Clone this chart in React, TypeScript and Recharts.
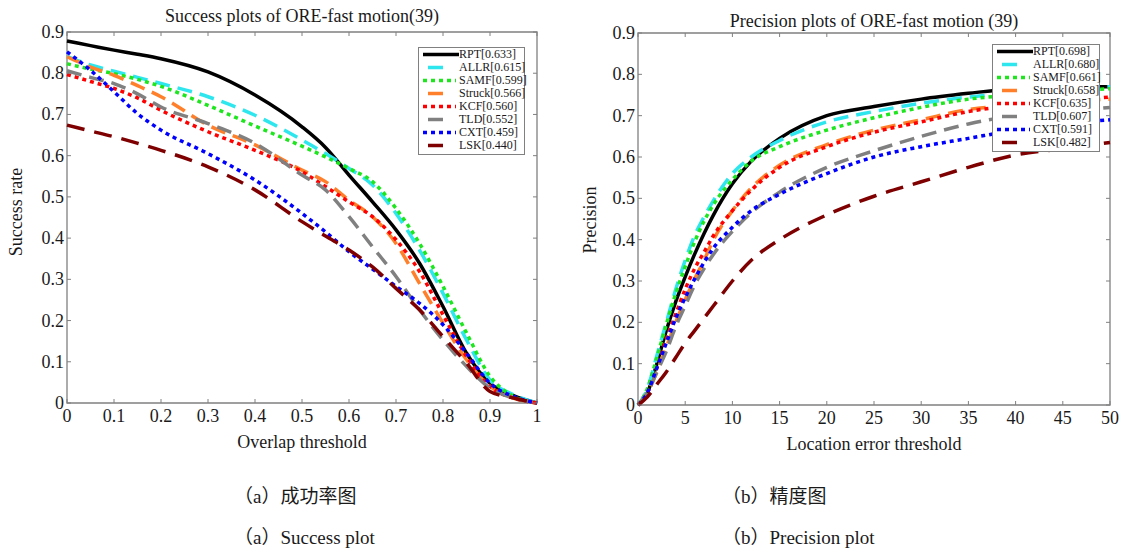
import { LineChart, Line, XAxis, YAxis, ReferenceArea, Legend } from 'recharts'

const trackers = ['RPT', 'ALLR', 'SAMF', 'Struck', 'KCF', 'TLD', 'CXT', 'LSK']
const successScores = ['0.633', '0.615', '0.599', '0.566', '0.560', '0.552', '0.459', '0.440']
const precisionScores = ['0.698', '0.680', '0.661', '0.658', '0.635', '0.607', '0.591', '0.482']

// success plot: overlap threshold -> success rate
const overlapThresholds = [0, 0.05, 0.1, 0.15, 0.2, 0.3, 0.4, 0.5, 0.55, 0.6, 0.65, 0.7, 0.75, 0.8, 0.85, 0.9, 0.95, 1]
const successRPT = [0.878, 0.867, 0.856, 0.846, 0.835, 0.803, 0.747, 0.67, 0.62, 0.553, 0.488, 0.42, 0.339, 0.234, 0.121, 0.048, 0.018, 0]
const successALLR = [0.841, 0.82, 0.805, 0.79, 0.775, 0.743, 0.698, 0.638, 0.605, 0.569, 0.529, 0.46, 0.371, 0.266, 0.153, 0.056, 0.02, 0]
const successSAMF = [0.823, 0.81, 0.799, 0.785, 0.768, 0.722, 0.672, 0.623, 0.597, 0.569, 0.537, 0.472, 0.387, 0.283, 0.17, 0.065, 0.016, 0]
const successStruck = [0.84, 0.815, 0.795, 0.77, 0.743, 0.674, 0.626, 0.565, 0.537, 0.492, 0.452, 0.387, 0.29, 0.194, 0.105, 0.04, 0.012, 0]
const successKCF = [0.797, 0.78, 0.763, 0.74, 0.71, 0.658, 0.613, 0.561, 0.525, 0.488, 0.452, 0.396, 0.319, 0.214, 0.113, 0.04, 0.012, 0]
const successTLD = [0.806, 0.79, 0.775, 0.75, 0.718, 0.678, 0.63, 0.553, 0.517, 0.452, 0.379, 0.307, 0.226, 0.153, 0.089, 0.036, 0.012, 0]
const successCXT = [0.852, 0.807, 0.755, 0.702, 0.662, 0.605, 0.541, 0.46, 0.415, 0.367, 0.325, 0.283, 0.242, 0.19, 0.121, 0.048, 0.016, 0]
const successLSK = [0.674, 0.66, 0.646, 0.63, 0.613, 0.573, 0.517, 0.44, 0.405, 0.371, 0.33, 0.278, 0.226, 0.161, 0.097, 0.028, 0.012, 0]

// precision plot: location error threshold -> precision
const errorThresholds = [0, 1, 2, 3, 4, 5, 6, 7, 8, 10, 12, 15, 20, 25, 30, 35, 40, 45, 50]
const precisionRPT = [0, 0.03, 0.1, 0.18, 0.25, 0.31, 0.365, 0.415, 0.46, 0.535, 0.59, 0.645, 0.7, 0.722, 0.74, 0.754, 0.766, 0.77, 0.77]
const precisionALLR = [0, 0.04, 0.12, 0.2, 0.28, 0.35, 0.41, 0.455, 0.495, 0.56, 0.6, 0.64, 0.685, 0.71, 0.73, 0.745, 0.755, 0.765, 0.77]
const precisionSAMF = [0, 0.04, 0.115, 0.195, 0.27, 0.335, 0.395, 0.445, 0.485, 0.545, 0.59, 0.625, 0.665, 0.695, 0.72, 0.74, 0.75, 0.76, 0.765]
const precisionStruck = [0, 0.03, 0.08, 0.14, 0.2, 0.255, 0.305, 0.35, 0.4, 0.47, 0.525, 0.58, 0.63, 0.665, 0.69, 0.715, 0.725, 0.735, 0.74]
const precisionKCF = [0, 0.03, 0.09, 0.16, 0.22, 0.28, 0.33, 0.37, 0.41, 0.47, 0.52, 0.575, 0.625, 0.66, 0.685, 0.71, 0.725, 0.735, 0.745]
const precisionTLD = [0, 0.03, 0.08, 0.13, 0.19, 0.24, 0.29, 0.33, 0.365, 0.42, 0.465, 0.515, 0.575, 0.615, 0.65, 0.68, 0.7, 0.71, 0.72]
const precisionCXT = [0, 0.03, 0.09, 0.15, 0.21, 0.26, 0.305, 0.345, 0.38, 0.43, 0.47, 0.51, 0.56, 0.6, 0.625, 0.645, 0.665, 0.68, 0.69]
const precisionLSK = [0, 0.02, 0.05, 0.08, 0.115, 0.15, 0.18, 0.21, 0.24, 0.3, 0.35, 0.4, 0.46, 0.505, 0.54, 0.575, 0.605, 0.62, 0.635]

const overlapTicks = [0, 0.1, 0.2, 0.3, 0.4, 0.5, 0.6, 0.7, 0.8, 0.9, 1]
const errorTicks = [0, 5, 10, 15, 20, 25, 30, 35, 40, 45, 50]
const rateTicks = [0, 0.1, 0.2, 0.3, 0.4, 0.5, 0.6, 0.7, 0.8, 0.9]

const successSeries = [successRPT, successALLR, successSAMF, successStruck, successKCF, successTLD, successCXT, successLSK]
const precisionSeries = [precisionRPT, precisionALLR, precisionSAMF, precisionStruck, precisionKCF, precisionTLD, precisionCXT, precisionLSK]

const successRows = overlapThresholds.map((t, i) => {
  const row: Record<string, number> = { t }
  trackers.forEach((name, k) => { row[name] = successSeries[k][i] })
  return row
})
const precisionRows = errorThresholds.map((t, i) => {
  const row: Record<string, number> = { t }
  trackers.forEach((name, k) => { row[name] = precisionSeries[k][i] })
  return row
})

const SERIF = '"Liberation Serif", "Times New Roman", serif'
const CJK = '"Liberation Serif", "Noto Sans CJK SC", serif'
const FRAME = '#808080'
const INK = '#1a1a1a'

// matlab-ish line styles; kind decides how the legend sample is drawn
const styles: Record<string, { color: string; dash?: string; kind: 'solid' | 'dash' | 'dot' }> = {
  RPT: { color: '#000000', kind: 'solid' },
  ALLR: { color: '#2ee6ee', dash: '15 8', kind: 'dash' },
  SAMF: { color: '#1ee61e', dash: '4 4', kind: 'dot' },
  Struck: { color: '#ff7f2a', dash: '15 8', kind: 'dash' },
  KCF: { color: '#ff0000', dash: '4 4', kind: 'dot' },
  TLD: { color: '#808080', dash: '15 8', kind: 'dash' },
  CXT: { color: '#0000ff', dash: '4 4', kind: 'dot' },
  LSK: { color: '#7f0000', dash: '18 10', kind: 'dash' },
}

type Box = { left: number; top: number; right: number; bottom: number }

function LegendBox({ scores, width }: { scores: string[]; width: number }) {
  return (
    <div style={{
      width, boxSizing: 'border-box', border: `1px solid ${FRAME}`, background: '#fff',
      padding: '0 2px 2px 3px', fontFamily: SERIF, fontSize: 12, color: INK, textAlign: 'left',
    }}>
      {trackers.map((name, i) => {
        const s = styles[name]
        return (
          <div key={name} style={{ display: 'flex', alignItems: 'center', height: 13, whiteSpace: 'nowrap' }}>
            <svg width={37} height={13} style={{ flex: 'none' }}>
              {s.kind === 'dash' ? (
                <line x1={6} y1={6.5} x2={21} y2={6.5} stroke={s.color} strokeWidth={3.5} />
              ) : (
                <line x1={1} y1={6.5} x2={s.kind === 'solid' ? 37 : 34} y2={6.5} stroke={s.color} strokeWidth={3.5} strokeDasharray={s.dash} />
              )}
            </svg>
            <span>{name}[{scores[i]}]</span>
          </div>
        )
      })}
    </div>
  )
}

function Panel(props: {
  rows: Record<string, number>[]
  width: number
  height: number
  box: Box
  xDomain: [number, number]
  xTicks: number[]
  scores: string[]
  legendAt: { left: number; top: number; width: number }
}) {
  const { rows, width, height, box, xDomain, xTicks, scores, legendAt } = props
  const yAxisW = 40
  const xAxisH = 30

  const XTick = (p: any) => (
    <g>
      <line x1={p.x} y1={box.bottom} x2={p.x} y2={box.bottom - 4} stroke={FRAME} />
      <line x1={p.x} y1={box.top} x2={p.x} y2={box.top + 4} stroke={FRAME} />
      <text x={p.x} y={box.bottom + 19} textAnchor="middle" fontFamily={SERIF} fontSize={18} fill={INK}>
        {p.payload.value}
      </text>
    </g>
  )
  const YTick = (p: any) => (
    <g>
      <line x1={box.left} y1={p.y} x2={box.left + 4} y2={p.y} stroke={FRAME} />
      <line x1={box.right} y1={p.y} x2={box.right - 4} y2={p.y} stroke={FRAME} />
      <text x={box.left - 3} y={p.y + 6} textAnchor="end" fontFamily={SERIF} fontSize={18} fill={INK}>
        {p.payload.value}
      </text>
    </g>
  )

  return (
    <LineChart
      width={width}
      height={height}
      data={rows}
      margin={{ top: box.top, left: box.left - yAxisW, right: width - box.right, bottom: height - box.bottom - xAxisH }}
    >
      <XAxis dataKey="t" type="number" domain={xDomain} ticks={xTicks} interval={0} height={xAxisH}
        axisLine={false} tickLine={false} tickSize={0} tickMargin={0} tick={XTick} />
      <YAxis type="number" domain={[0, 0.9]} ticks={rateTicks} interval={0} width={yAxisW}
        axisLine={false} tickLine={false} tickSize={0} tickMargin={0} tick={YTick} />
      <ReferenceArea x1={xDomain[0]} x2={xDomain[1]} y1={0} y2={0.9} fill="none" fillOpacity={0} stroke={FRAME} strokeWidth={1.3} />
      {trackers.map((name) => (
        <Line
          key={name}
          type="monotone"
          dataKey={name}
          stroke={styles[name].color}
          strokeWidth={3.5}
          strokeDasharray={styles[name].dash}
          dot={false}
          activeDot={false}
          isAnimationActive={false}
        />
      ))}
      <Legend
        layout="vertical"
        align="center"
        verticalAlign="middle"
        wrapperStyle={{ left: legendAt.left, top: legendAt.top, width: legendAt.width, height: 'auto' }}
        content={() => <LegendBox scores={scores} width={legendAt.width} />}
      />
    </LineChart>
  )
}

const textAt = (x: number, y: number, size: number, rotate = false): React.CSSProperties => ({
  position: 'absolute',
  left: x,
  top: y,
  transform: `translate(-50%, -50%)${rotate ? ' rotate(-90deg)' : ''}`,
  fontFamily: SERIF,
  fontSize: size,
  color: INK,
  whiteSpace: 'nowrap',
  lineHeight: 1,
})

export default function App() {
  return (
    <div style={{ position: 'absolute', left: 0, top: 0, width: 1124, height: 551, background: '#fff', overflow: 'hidden' }}>
      <div style={{ position: 'absolute', left: 0, top: 0 }}>
        <Panel
          rows={successRows}
          width={560}
          height={460}
          box={{ left: 67, top: 32, right: 537, bottom: 403 }}
          xDomain={[0, 1]}
          xTicks={overlapTicks}
          scores={successScores}
          legendAt={{ left: 418, top: 47, width: 107 }}
        />
      </div>
      <div style={{ position: 'absolute', left: 570, top: 0 }}>
        <Panel
          rows={precisionRows}
          width={554}
          height={460}
          box={{ left: 68, top: 33, right: 540, bottom: 405 }}
          xDomain={[0, 50]}
          xTicks={errorTicks}
          scores={precisionScores}
          legendAt={{ left: 422, top: 44, width: 108 }}
        />
      </div>

      <div style={textAt(302, 16, 18)}>Success plots of ORE-fast motion(39)</div>
      <div style={textAt(874, 21, 18)}>Precision plots of ORE-fast motion (39)</div>
      <div style={textAt(302, 442, 18)}>Overlap threshold</div>
      <div style={textAt(874, 444, 18)}>Location error threshold</div>
      <div style={textAt(16, 212, 18, true)}>Success rate</div>
      <div style={textAt(590, 220, 18, true)}>Precision</div>

      <div style={{ ...textAt(234, 496, 19), transform: 'translateY(-50%)', fontFamily: CJK }}>（a）成功率图</div>
      <div style={{ ...textAt(234, 537, 19), transform: 'translateY(-50%)', fontFamily: CJK }}>（a）Success plot</div>
      <div style={{ ...textAt(722, 496, 19), transform: 'translateY(-50%)', fontFamily: CJK }}>（b）精度图</div>
      <div style={{ ...textAt(722, 537, 19), transform: 'translateY(-50%)', fontFamily: CJK }}>（b）Precision plot</div>
    </div>
  )
}
